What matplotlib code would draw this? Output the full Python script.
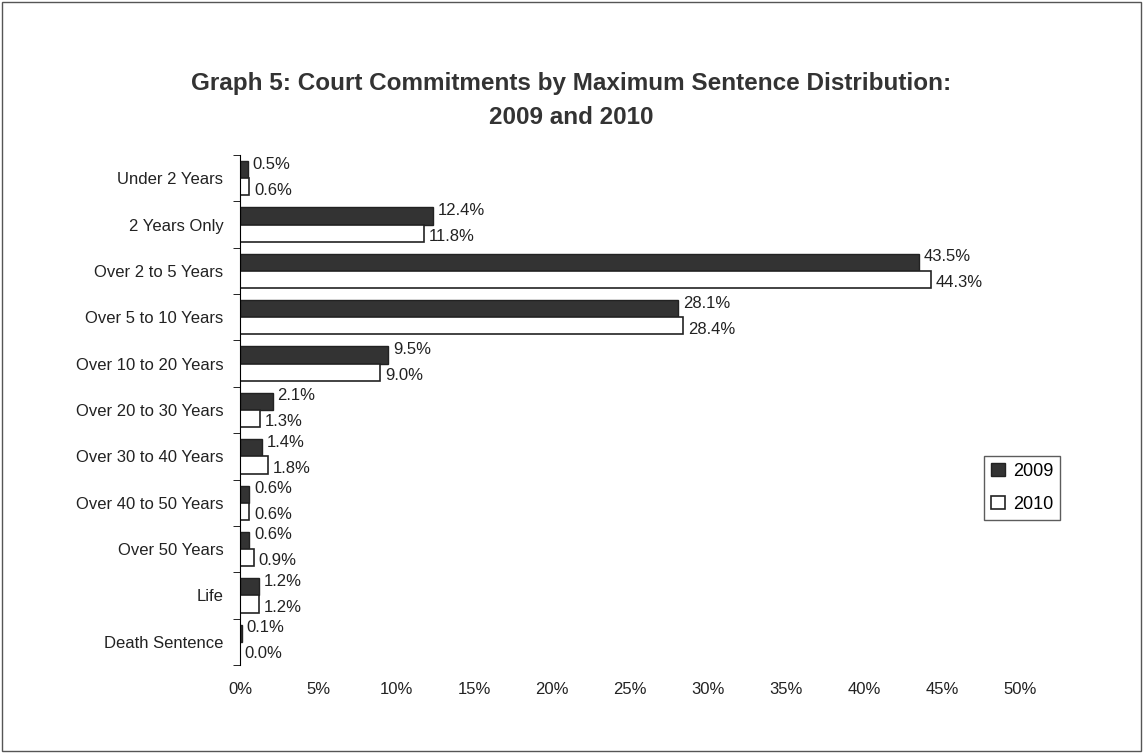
import matplotlib.pyplot as plt
import numpy as np

categories = ['Under 2 Years', '2 Years Only', 'Over 2 to 5 Years', 'Over 5 to 10 Years',
              'Over 10 to 20 Years', 'Over 20 to 30 Years', 'Over 30 to 40 Years',
              'Over 40 to 50 Years', 'Over 50 Years', 'Life', 'Death Sentence']
v2009 = [0.5, 12.4, 43.5, 28.1, 9.5, 2.1, 1.4, 0.6, 0.6, 1.2, 0.1]
v2010 = [0.6, 11.8, 44.3, 28.4, 9.0, 1.3, 1.8, 0.6, 0.9, 1.2, 0.0]
xticks = [0, 5, 10, 15, 20, 25, 30, 35, 40, 45, 50]

plt.rcParams['font.family'] = ['Liberation Sans', 'DejaVu Sans']
fig = plt.figure(figsize=(11.43, 7.53), dpi=100)
fig.patches.append(plt.Rectangle((0.002, 0.002), 0.996, 0.996, transform=fig.transFigure,
                                 fill=False, edgecolor='#555555', linewidth=1))
ax = fig.add_axes([240 / 1143, 88 / 753, 780 / 1143, 510 / 753])

y = np.arange(len(categories))
h = 0.37
ax.barh(y - h / 2, v2009, height=h, color='#333333', edgecolor='#222222', linewidth=1, label='2009')
ax.barh(y + h / 2, v2010, height=h, color='white', edgecolor='#222222', linewidth=1.2, label='2010')
for i in range(len(categories)):
    ax.text(v2009[i] + 0.3, y[i] - h / 2 - 0.12, f'{v2009[i]:.1f}%', va='center', fontsize=12, color='#222222')
    ax.text(v2010[i] + 0.3, y[i] + h / 2 + 0.07, f'{v2010[i]:.1f}%', va='center', fontsize=12, color='#222222')

ax.set_xlim(0, 50)
ax.set_ylim(len(categories) - 0.5, -0.5)
ax.set_yticks(y)
ax.set_yticklabels(categories, fontsize=12, color='#222222')
ax.set_yticks(np.arange(-0.5, len(categories)), minor=True)
ax.tick_params(axis='y', which='major', length=0, pad=12)
ax.tick_params(axis='y', which='minor', length=5, direction='out')
ax.set_xticks(xticks)
ax.set_xticklabels([f'{t}%' for t in xticks], fontsize=12, color='#222222')
ax.tick_params(axis='x', length=0, pad=12)
for s in ['top', 'right', 'bottom']:
    ax.spines[s].set_visible(False)

fig.suptitle('Graph 5: Court Commitments by Maximum Sentence Distribution:\n2009 and 2010',
             fontsize=17.5, fontweight='bold', color='#333333', y=0.905, linespacing=1.65)
fig.legend(loc='center', bbox_to_anchor=(1022 / 1143, 1 - 488 / 753), frameon=True, fancybox=False,
           edgecolor='#333333', fontsize=13, handlelength=0.8, handletextpad=0.4, labelspacing=0.9)
fig.savefig('out.png', dpi=100)
